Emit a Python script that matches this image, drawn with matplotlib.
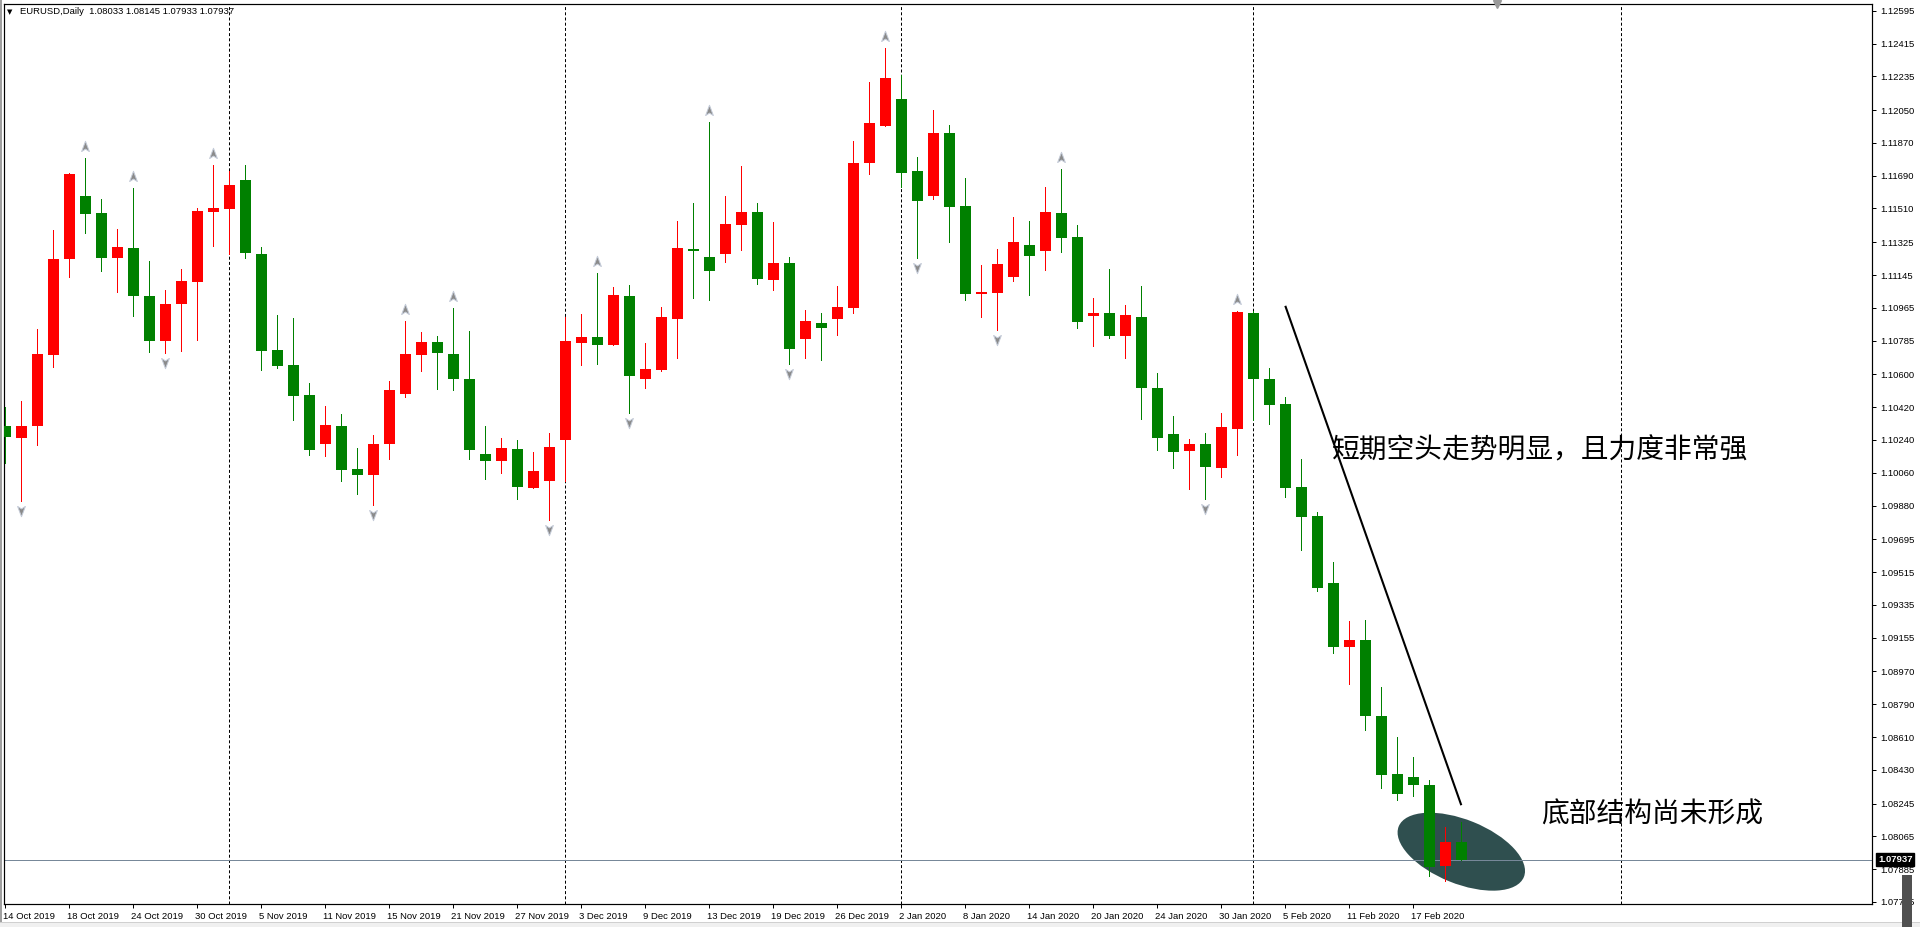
import matplotlib
matplotlib.use("Agg")
import matplotlib.pyplot as plt
import matplotlib.transforms as mtransforms
from matplotlib.patches import Ellipse, Rectangle
from matplotlib.path import Path
import numpy as np

# ---------------- data ----------------
opens = [1.10317, 1.10253, 1.10319, 1.10708, 1.11235, 1.11579, 1.11486, 1.11240, 1.11293, 1.11030,
         1.10785, 1.10988, 1.11109, 1.11493, 1.11509, 1.11666, 1.11261, 1.10734, 1.10651, 1.10487,
         1.10220, 1.10317, 1.10081, 1.10050, 1.10220, 1.10494, 1.10708, 1.10778, 1.10712, 1.10575,
         1.10163, 1.10126, 1.10191, 1.09978, 1.10013, 1.10242, 1.10774, 1.10805, 1.10763, 1.11030,
         1.10576, 1.10626, 1.10905, 1.11288, 1.11244, 1.11262, 1.11421, 1.11491, 1.11119, 1.11211,
         1.10796, 1.10882, 1.10905, 1.10966, 1.11761, 1.11964, 1.12111, 1.11716, 1.11580, 1.11924,
         1.11524, 1.11043, 1.11046, 1.11136, 1.11312, 1.11279, 1.11486, 1.11354, 1.10922, 1.10937,
         1.10812, 1.10915, 1.10525, 1.10273, 1.10181, 1.10218, 1.10088, 1.10301, 1.10937, 1.10577,
         1.10435, 1.09981, 1.09825, 1.09454, 1.09103, 1.09144, 1.08723, 1.08405, 1.08393, 1.08345,
         1.07905, 1.08033]
highs = [1.10423, 1.10454, 1.10849, 1.11392, 1.11705, 1.11787, 1.11562, 1.11398, 1.11623, 1.11222,
         1.11063, 1.11178, 1.11511, 1.11749, 1.11716, 1.11749, 1.11300, 1.10926, 1.10909, 1.10553,
         1.10426, 1.10383, 1.10196, 1.10267, 1.10565, 1.10893, 1.10833, 1.10811, 1.10964, 1.10840,
         1.10317, 1.10253, 1.10240, 1.10174, 1.10278, 1.10916, 1.10931, 1.11156, 1.11079, 1.11090,
         1.10772, 1.10970, 1.11441, 1.11540, 1.11985, 1.11579, 1.11743, 1.11540, 1.11436, 1.11244,
         1.10953, 1.10937, 1.11085, 1.11880, 1.12204, 1.12391, 1.12243, 1.11793, 1.12050, 1.11968,
         1.11677, 1.11200, 1.11288, 1.11463, 1.11441, 1.11628, 1.11727, 1.11420, 1.11019, 1.11178,
         1.10981, 1.11085, 1.10608, 1.10372, 1.10245, 1.10278, 1.10388, 1.10948, 1.10945, 1.10637,
         1.10475, 1.10134, 1.09843, 1.09569, 1.09248, 1.09250, 1.08883, 1.08609, 1.08501, 1.08377,
         1.08118, 1.08145]
lows = [1.10115, 1.09907, 1.10214, 1.10642, 1.11136, 1.11377, 1.11169, 1.11052, 1.10920, 1.10725,
        1.10719, 1.10730, 1.10789, 1.11306, 1.11262, 1.11240, 1.10624, 1.10637, 1.10351, 1.10159,
        1.10154, 1.10017, 1.09945, 1.09883, 1.10137, 1.10478, 1.10620, 1.10521, 1.10516, 1.10137,
        1.10028, 1.10061, 1.09918, 1.09975, 1.09801, 1.10017, 1.10653, 1.10659, 1.10760, 1.10390,
        1.10527, 1.10620, 1.10692, 1.11021, 1.11010, 1.11218, 1.11284, 1.11097, 1.11065, 1.10659,
        1.10692, 1.10681, 1.10818, 1.10938, 1.11701, 1.11960, 1.11630, 1.11240, 1.11564, 1.11328,
        1.11010, 1.10916, 1.10845, 1.11114, 1.11037, 1.11174, 1.11273, 1.10856, 1.10757, 1.10801,
        1.10692, 1.10357, 1.10187, 1.10088, 1.09973, 1.09918, 1.10039, 1.10160, 1.10347, 1.10325,
        1.09927, 1.09637, 1.09413, 1.09072, 1.08903, 1.08647, 1.08332, 1.08264, 1.08284, 1.07847,
        1.07820, 1.07933]
closes = [1.10258, 1.10317, 1.10712, 1.11233, 1.11699, 1.11482, 1.11240, 1.11299, 1.11032, 1.10785,
          1.10986, 1.11112, 1.11496, 1.11513, 1.11639, 1.11268, 1.10728, 1.10646, 1.10483, 1.10187,
          1.10322, 1.10077, 1.10050, 1.10218, 1.10514, 1.10712, 1.10778, 1.10719, 1.10577, 1.10187,
          1.10126, 1.10196, 1.09984, 1.10070, 1.10202, 1.10783, 1.10805, 1.10763, 1.11036, 1.10593,
          1.10630, 1.10915, 1.11293, 1.11279, 1.11169, 1.11425, 1.11491, 1.11125, 1.11211, 1.10741,
          1.10893, 1.10856, 1.10970, 1.11760, 1.11979, 1.12226, 1.11707, 1.11553, 1.11924, 1.11520,
          1.11043, 1.11052, 1.11206, 1.11326, 1.11249, 1.11491, 1.11350, 1.10889, 1.10937, 1.10812,
          1.10926, 1.10527, 1.10253, 1.10176, 1.10218, 1.10093, 1.10311, 1.10941, 1.10577, 1.10433,
          1.09977, 1.09819, 1.09428, 1.09102, 1.09144, 1.08723, 1.08403, 1.08299, 1.08345, 1.07897,
          1.08035, 1.07937]

date_labels = ["14 Oct 2019", "18 Oct 2019", "24 Oct 2019", "30 Oct 2019", "5 Nov 2019",
               "11 Nov 2019", "15 Nov 2019", "21 Nov 2019", "27 Nov 2019", "3 Dec 2019",
               "9 Dec 2019", "13 Dec 2019", "19 Dec 2019", "26 Dec 2019", "2 Jan 2020",
               "8 Jan 2020", "14 Jan 2020", "20 Jan 2020", "24 Jan 2020", "30 Jan 2020",
               "5 Feb 2020", "11 Feb 2020", "17 Feb 2020"]
date_label_bars = list(range(0, 89, 4))

price_ticks = [1.12595, 1.12415, 1.12235, 1.12050, 1.11870, 1.11690, 1.11510, 1.11325, 1.11145,
               1.10965, 1.10785, 1.10600, 1.10420, 1.10240, 1.10060, 1.09880, 1.09695, 1.09515,
               1.09335, 1.09155, 1.08970, 1.08790, 1.08610, 1.08430, 1.08245, 1.08065, 1.07885,
               1.07705]

separator_bars = [14, 35, 56, 78, 101]
fractal_up_bars = [5, 8, 13, 25, 28, 37, 44, 55, 66, 77]
fractal_down_bars = [1, 10, 23, 34, 39, 49, 57, 62, 75]

symbol_title = "EURUSD,Daily"
note_trend = "短期空头走势明显，且力度非常强"
note_bottom = "底部结构尚未形成"
note_trend_pos = (82.9, 1.10182)
note_bottom_pos = (96.0, 1.08183)
trend_x = [80, 91]
trend_y = [1.10976, 1.08236]
ellipse_center = (91.0, 1.07981)

# ---------------- figure layout ----------------
W, H = 1920, 927
fig = plt.figure(figsize=(W / 100, H / 100), dpi=100)
fig.patch.set_facecolor("white")
ax_l, ax_r, ax_t, ax_b = 4, 1872, 4, 904
ax = fig.add_axes([ax_l / W, (H - ax_b) / H, (ax_r - ax_l) / W, (ax_b - ax_t) / H])
ax.set_facecolor("white")

px_per_bar = 16.0
first_center_px = 5.3
ax.set_xlim((ax_l - first_center_px) / px_per_bar, (ax_r - first_center_px) / px_per_bar)
ax.set_ylim(1.07694, 1.12632)

o = np.array(opens); h = np.array(highs); l = np.array(lows); c = np.array(closes)
x = np.arange(len(o))
up = c >= o
cols = np.where(up, "#ff0000", "#008000")

lw1 = 72.0 / 100  # 1 px in points

ax.vlines(x, l, h, colors=cols, linewidth=lw1, zorder=3, antialiased=False)
body_bottom = np.minimum(o, c)
body_h = np.maximum(np.abs(c - o), 0.00008)
ax.bar(x, body_h, bottom=body_bottom, width=11 / 16, color=cols, linewidth=0,
       zorder=4, antialiased=False)

# fractal arrows
arrow_verts = [(0, 1.0), (0.62, -0.65), (0, -0.25), (-0.62, -0.65), (0, 1.0)]
arrow_codes = [Path.MOVETO, Path.LINETO, Path.LINETO, Path.LINETO, Path.CLOSEPOLY]
arrow_up = Path(arrow_verts, arrow_codes)
arrow_down = Path([(vx, -vy) for vx, vy in arrow_verts], arrow_codes)
tr_up = mtransforms.offset_copy(ax.transData, fig=fig, x=0, y=11, units="dots")
tr_dn = mtransforms.offset_copy(ax.transData, fig=fig, x=0, y=-9, units="dots")
ax.plot(fractal_up_bars, h[fractal_up_bars], linestyle="none", marker=arrow_up,
        markersize=9, markerfacecolor="#8a8a8a", markeredgecolor="#c4cbd8",
        markeredgewidth=0.7, transform=tr_up, zorder=5)
ax.plot(fractal_down_bars, l[fractal_down_bars], linestyle="none", marker=arrow_down,
        markersize=9, markerfacecolor="#8a8a8a", markeredgecolor="#c4cbd8",
        markeredgewidth=0.7, transform=tr_dn, zorder=5)

# period separators
for s in separator_bars:
    ax.axvline(s, color="black", linewidth=lw1, linestyle=(0, (3, 2.2)), zorder=2)

# bid line
last = c[-1]
ax.axhline(last, color="#778899", linewidth=lw1, zorder=2.5)

# trend line
ax.plot(trend_x, trend_y, color="black", linewidth=1.5, zorder=6, solid_capstyle="butt")

# annotations
cjk = ["Noto Sans CJK SC", "DejaVu Sans"]
ax.text(*note_trend_pos, note_trend, fontsize=20, family=cjk, va="center", ha="left",
        color="black", zorder=7, fontweight="light")
ax.text(*note_bottom_pos, note_bottom, fontsize=20, family=cjk, va="center", ha="left",
        color="black", zorder=7, fontweight="light")

# axes styling
for sp in ax.spines.values():
    sp.set_color("black")
    sp.set_linewidth(lw1 * 1.2)

small_font = "Liberation Sans"
ax.yaxis.tick_right()
ax.set_yticks(price_ticks)
ax.set_yticklabels([f"{p:.5f}" for p in price_ticks])
ax.tick_params(axis="y", direction="out", length=3, width=lw1, pad=3, labelsize=6.8,
               colors="black")
ax.set_xticks(date_label_bars)
ax.set_xticklabels(date_labels, ha="left")
ax.tick_params(axis="x", direction="out", length=3, width=lw1, pad=3, labelsize=6.8,
               colors="black")
for lab in ax.get_xticklabels() + ax.get_yticklabels():
    lab.set_family(small_font)
xoff = mtransforms.ScaledTranslation(-2.5 / 100, 0, fig.dpi_scale_trans)
for lab in ax.get_xticklabels():
    lab.set_transform(lab.get_transform() + xoff)

# bid price label on the axis
blend = mtransforms.blended_transform_factory(ax.transAxes, ax.transData)
ax.annotate(f"{last:.5f}", xy=(1.0, last), xycoords=blend, xytext=(6, 0),
            textcoords="offset pixels", ha="left", va="center", fontsize=6.8,
            family=small_font, color="white", fontweight="bold", annotation_clip=False,
            bbox=dict(boxstyle="square,pad=0.2", facecolor="black", edgecolor="black"),
            zorder=10)

# ellipse (drawn in pixel space around a data anchor)
fig.canvas.draw()
cx, cy = ax.transData.transform(ellipse_center)
ell = Ellipse((cx, cy), width=135, height=64, angle=-22, facecolor="#2f4f4f",
              edgecolor="none", transform=mtransforms.IdentityTransform(), zorder=1)
ell.set_clip_on(False)
ax.add_artist(ell)

# chart shift marker at the top
ax.plot([93.2], [1.0], marker="v", markersize=6, color="#9a9a9a", linestyle="none",
        transform=mtransforms.blended_transform_factory(ax.transData, ax.transAxes),
        clip_on=False, zorder=8)

# header
fig.text(10 / W, 1 - 12 / H, "\u25BC", fontsize=5, ha="center", va="center", color="black",
         family="DejaVu Sans")
fig.text(20 / W, 1 - 12 / H,
         f"{symbol_title}  {opens[-1]:.5f} {highs[-1]:.5f} {lows[-1]:.5f} {closes[-1]:.5f}",
         fontsize=6.8, family=small_font, ha="left", va="center", color="black")

# window frame decorations
fig.add_artist(Rectangle((0, 0), 2 / W, 1, transform=fig.transFigure, facecolor="#a0a0a0",
                         edgecolor="none"))
fig.add_artist(Rectangle((0, 0), 1, 4 / H, transform=fig.transFigure, facecolor="#f0f0f0",
                         edgecolor="none"))
fig.add_artist(Rectangle((0, 4 / H), 1, 1 / H, transform=fig.transFigure, facecolor="#d0d0d0",
                         edgecolor="none"))
fig.add_artist(Rectangle((1902 / W, 0), 10 / W, 52 / H, transform=fig.transFigure,
                         facecolor="#505050", edgecolor="none"))

fig.savefig("out.png", dpi=100, facecolor="white")
